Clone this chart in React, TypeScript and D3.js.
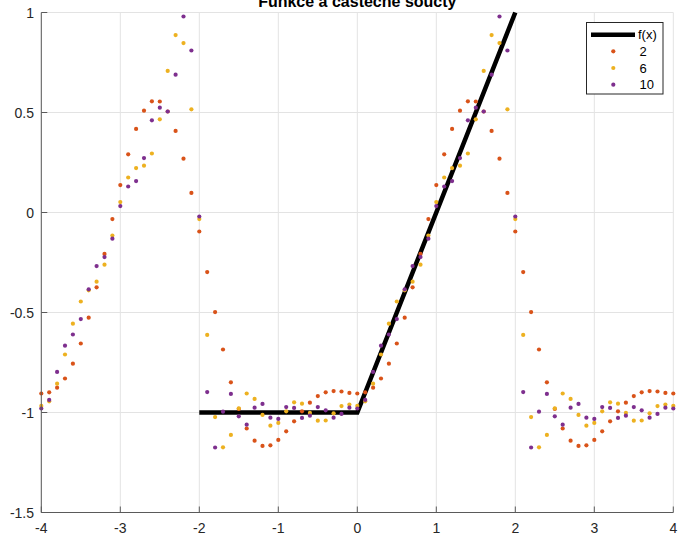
import React from "react";
import * as d3 from "d3";

const xValues = [
  -4.0, -3.9, -3.8, -3.7, -3.6, -3.5, -3.4, -3.3, -3.2, -3.1,
  -3.0, -2.9, -2.8, -2.7, -2.6, -2.5, -2.4, -2.3, -2.2, -2.1,
  -2.0, -1.9, -1.8, -1.7, -1.6, -1.5, -1.4, -1.3, -1.2, -1.1,
  -1.0, -0.9, -0.8, -0.7, -0.6, -0.5, -0.4, -0.3, -0.2, -0.1,
  0.0, 0.1, 0.2, 0.3, 0.4, 0.5, 0.6, 0.7, 0.8, 0.9,
  1.0, 1.1, 1.2, 1.3, 1.4, 1.5, 1.6, 1.7, 1.8, 1.9,
  2.0, 2.1, 2.2, 2.3, 2.4, 2.5, 2.6, 2.7, 2.8, 2.9,
  3.0, 3.1, 3.2, 3.3, 3.4, 3.5, 3.6, 3.7, 3.8, 3.9,
  4.0,
];

const sum2 = [
  -0.905, -0.899, -0.876, -0.830, -0.756, -0.655, -0.526, -0.374, -0.207, -0.033,
  0.137, 0.291, 0.418, 0.509, 0.556, 0.555, 0.505, 0.408, 0.269, 0.098,
  -0.095, -0.298, -0.498, -0.685, -0.849, -0.982, -1.080, -1.141, -1.167, -1.164,
  -1.137, -1.094, -1.044, -0.994, -0.951, -0.918, -0.899, -0.893, -0.895, -0.902,
  -0.905, -0.899, -0.876, -0.830, -0.756, -0.655, -0.526, -0.374, -0.207, -0.033,
  0.137, 0.291, 0.418, 0.509, 0.556, 0.555, 0.505, 0.408, 0.269, 0.098,
  -0.095, -0.298, -0.498, -0.685, -0.849, -0.982, -1.080, -1.141, -1.167, -1.164,
  -1.137, -1.094, -1.044, -0.994, -0.951, -0.918, -0.899, -0.893, -0.895, -0.902,
  -0.905,
];

const sum6 = [
  -0.967, -0.944, -0.856, -0.710, -0.556, -0.445, -0.389, -0.346, -0.261, -0.115,
  0.052, 0.175, 0.222, 0.234, 0.295, 0.466, 0.708, 0.887, 0.847, 0.516,
  -0.033, -0.612, -1.023, -1.174, -1.112, -0.979, -0.905, -0.932, -1.012, -1.066,
  -1.052, -0.994, -0.949, -0.956, -1.002, -1.041, -1.040, -1.004, -0.968, -0.960,
  -0.967, -0.944, -0.856, -0.710, -0.556, -0.445, -0.389, -0.346, -0.261, -0.115,
  0.052, 0.175, 0.222, 0.234, 0.295, 0.466, 0.708, 0.887, 0.847, 0.516,
  -0.033, -0.612, -1.023, -1.174, -1.112, -0.979, -0.905, -0.932, -1.012, -1.066,
  -1.052, -0.994, -0.949, -0.956, -1.002, -1.041, -1.040, -1.004, -0.968, -0.960,
  -0.967,
];

const sum10 = [
  -0.980, -0.937, -0.797, -0.666, -0.610, -0.533, -0.384, -0.268, -0.223, -0.131,
  0.032, 0.130, 0.157, 0.272, 0.461, 0.524, 0.505, 0.689, 0.980, 0.810,
  -0.020, -0.898, -1.175, -0.996, -0.907, -1.019, -1.061, -0.976, -0.957, -1.026,
  -1.032, -0.973, -0.977, -1.027, -1.016, -0.973, -0.989, -1.026, -1.007, -0.976,
  -0.980, -0.937, -0.797, -0.666, -0.610, -0.533, -0.384, -0.268, -0.223, -0.131,
  0.032, 0.130, 0.157, 0.272, 0.461, 0.524, 0.505, 0.689, 0.980, 0.810,
  -0.020, -0.898, -1.175, -0.996, -0.907, -1.019, -1.061, -0.976, -0.957, -1.026,
  -1.032, -0.973, -0.977, -1.027, -1.016, -0.973, -0.989, -1.026, -1.007, -0.976,
  -0.980,
];

const fX = [-2, 0, 2];
const fY = [-1, -1, 1];

const xTicks = [-4, -3, -2, -1, 0, 1, 2, 3, 4];
const yTicks = [-1.5, -1, -0.5, 0, 0.5, 1];

const seriesNames = ["2", "6", "10"];
const seriesColors = ["#D95319", "#EDB120", "#7E2F8E"];
const seriesData = [sum2, sum6, sum10];

const titleText = "Funkce a částečné součty";
const fLabel = "f(x)";

const W = 680;
const H = 535;
const FONT = "'Liberation Sans', Arial, Helvetica, sans-serif";

export default function App() {
  const x = d3.scaleLinear().domain([-4, 4]).range([41.3, 673.3]);
  const y = d3.scaleLinear().domain([-1.5, 1]).range([512.5, 12.5]);
  const [x0, x1] = x.range();
  const [y0, y1] = y.range();

  const fLine = d3
    .line<number>()
    .x((_, i) => x(fX[i]))
    .y((d) => y(d));

  const axisColor = "#5a5a5a";
  const gridColor = "#e3e3e3";

  const legX = 586.5;
  const legY = 22.5;
  const legW = 76.5;
  const legH = 71.5;
  const rowY = [34.7, 51.3, 68, 84.7];

  return (
    <svg
      width={W}
      height={H}
      viewBox={`0 0 ${W} ${H}`}
      style={{ position: "absolute", left: 0, top: 0, display: "block", background: "#fff" }}
      fontFamily={FONT}
    >
      <rect x={0} y={0} width={W} height={H} fill="#fff" />
      {/* grid */}
      <g>
        {xTicks.map((t) => (
          <line key={"gx" + t} x1={x(t)} x2={x(t)} y1={y0} y2={y1} stroke={gridColor} strokeWidth={1} />
        ))}
        {yTicks.map((t) => (
          <line key={"gy" + t} x1={x0} x2={x1} y1={y(t)} y2={y(t)} stroke={gridColor} strokeWidth={1} />
        ))}
      </g>

      {/* f(x) line */}
      <path d={fLine(fY) || ""} fill="none" stroke="#000" strokeWidth={4.5} strokeLinejoin="miter" />

      {/* partial sums */}
      {seriesData.map((vals, si) => (
        <g key={"s" + si} fill={seriesColors[si]}>
          {vals.map((v, i) => (
            <circle key={i} cx={x(xValues[i])} cy={y(v)} r={2.1} />
          ))}
        </g>
      ))}

      {/* axes */}
      <line x1={x0} x2={x0} y1={y0} y2={y1} stroke={axisColor} strokeWidth={1} />
      <line x1={x0} x2={x1} y1={y0} y2={y0} stroke={axisColor} strokeWidth={1} />
      {xTicks.map((t) => (
        <g key={"xt" + t}>
          <line x1={x(t)} x2={x(t)} y1={y0} y2={y0 - 6} stroke={axisColor} strokeWidth={1} />
          <text x={x(t)} y={533} textAnchor="middle" fontSize={14} fill="#262626">
            {String(t)}
          </text>
        </g>
      ))}
      {yTicks.map((t) => (
        <g key={"yt" + t}>
          <line x1={x0} x2={x0 + 6} y1={y(t)} y2={y(t)} stroke={axisColor} strokeWidth={1} />
          <text x={34} y={y(t) + 5} textAnchor="end" fontSize={14} fill="#262626">
            {String(t)}
          </text>
        </g>
      ))}

      {/* title */}
      <text x={(x0 + x1) / 2} y={7} textAnchor="middle" fontSize={16} fontWeight="bold" fill="#000">
        {titleText}
      </text>

      {/* legend */}
      <rect x={legX} y={legY} width={legW} height={legH} fill="#fff" stroke="#262626" strokeWidth={1} />
      <line x1={591} x2={635} y1={rowY[0]} y2={rowY[0]} stroke="#000" strokeWidth={4.5} />
      <text x={638} y={rowY[0] + 4.5} fontSize={13} fill="#000">
        {fLabel}
      </text>
      {seriesNames.map((name, si) => (
        <g key={"lg" + si}>
          <circle cx={613.3} cy={rowY[si + 1]} r={2.1} fill={seriesColors[si]} />
          <text x={639.5} y={rowY[si + 1] + 4.5} fontSize={13} fill="#000">
            {name}
          </text>
        </g>
      ))}
    </svg>
  );
}
